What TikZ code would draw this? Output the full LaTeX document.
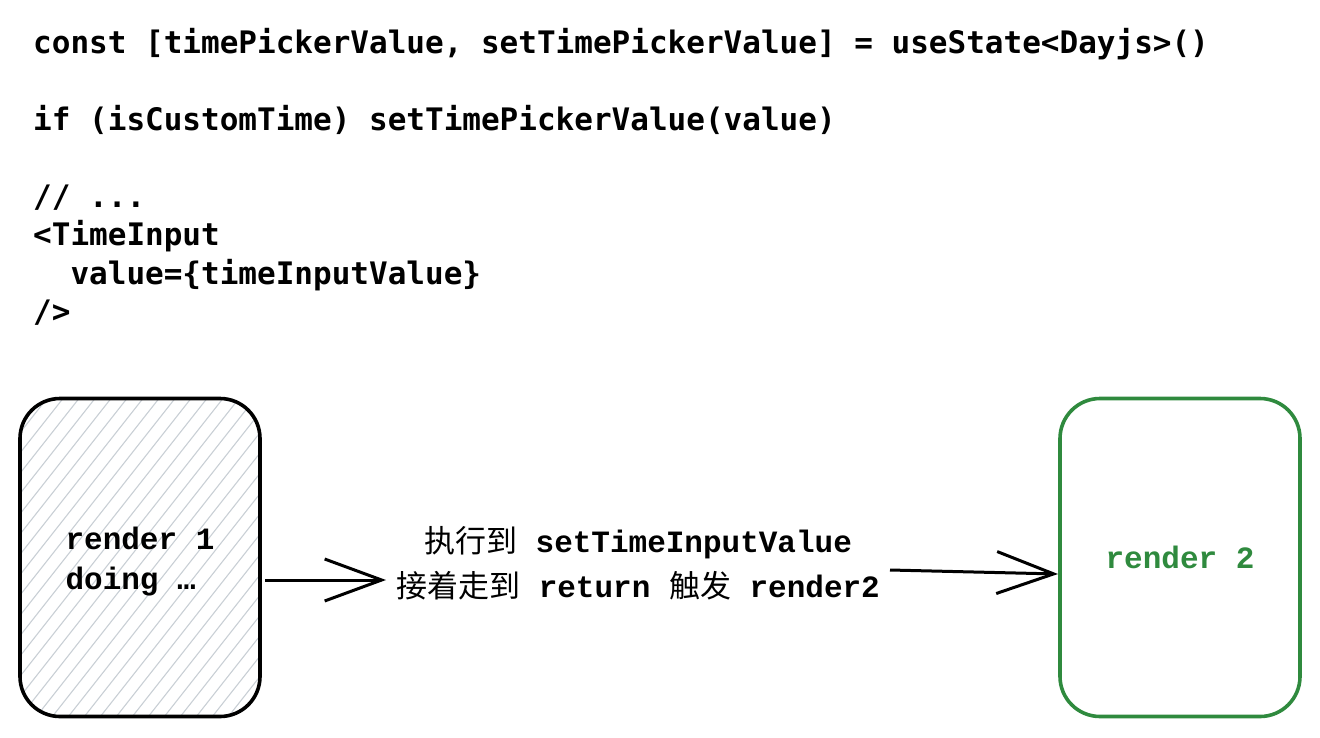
\documentclass[tikz,border=0pt]{standalone}
\usepackage{fontspec}
\newfontfamily\codefont{DejaVu Sans Mono}
\newfontfamily\lblmono{Liberation Mono}
\newfontfamily\cjk{Noto Sans CJK SC}
\usetikzlibrary{arrows.meta,calc}
\definecolor{boxgreen}{HTML}{2F8A3E}
\definecolor{hatchgray}{HTML}{C9CFD5}
\newcommand{\zh}[1]{{\cjk\mdseries #1}}
\tikzset{
  codeline/.style={anchor=base west, inner sep=0pt, font=\codefont\bfseries\fontsize{31}{38}\selectfont},
  renderbox/.style={draw, line width=3.6pt, rounded corners=40pt, minimum width=240pt, minimum height=318pt, inner sep=0pt},
  boxtext/.style={inner sep=0pt, font=\lblmono\bfseries\fontsize{31}{40}\selectfont, align=left},
  lbl/.style={font=\lblmono\bfseries\fontsize{31}{45}\selectfont, align=center, inner sep=0pt},
  flow/.style={line width=3pt, -{Straight Barb[length=57pt,width=42pt,line width=3pt]}},
}
\begin{document}
\begin{tikzpicture}[x=1pt,y=-1pt]
\useasboundingbox (0,0) rectangle (1320,737);
% code
\node[codeline] (c1) at (33,53) {const [timePickerValue, setTimePickerValue] = useState<Dayjs>()};
\node[codeline] (c2) at (33,130) {if (isCustomTime) setTimePickerValue(value)};
\node[codeline] (c3) at (33,207) {// ...};
\node[codeline] (c4) at (33,245.5) {<TimeInput};
\node[codeline] (c5) at (33,284) {\ \ value=\{timeInputValue\}};
\node[codeline] (c6) at (33,322.5) {/>};
% hatched box
\begin{scope}
  \clip[rounded corners=40pt] (20,398) rectangle (260,717);
  \foreach \i in {-25,...,20}
    \draw[hatchgray, line width=1.1pt] (20+\i*16,717) -- ++(260,-330);
\end{scope}
\node[renderbox] (r1) at (140,557.5) {};
\node[boxtext] (r1t) at (140,561.5) {render 1\\doing …};
\node[renderbox, draw=boxgreen] (r2) at (1180,557.5) {};
\node[boxtext, text=boxgreen] (r2t) at (1180,557.5) {render 2};
% label
\node[lbl] (l) at (638,563) {\zh{执行到} setTimeInputValue\\\zh{接着走到} return \zh{触发} render2};
\coordinate (a1s) at (265,580);
\coordinate (a1e) at (386,580);
\coordinate (a2s) at (890,570);
\coordinate (a2e) at (1058,574);
\draw[flow] (a1s) -- (a1e);
\draw[flow] (a2s) -- (a2e);
\end{tikzpicture}
\end{document}
